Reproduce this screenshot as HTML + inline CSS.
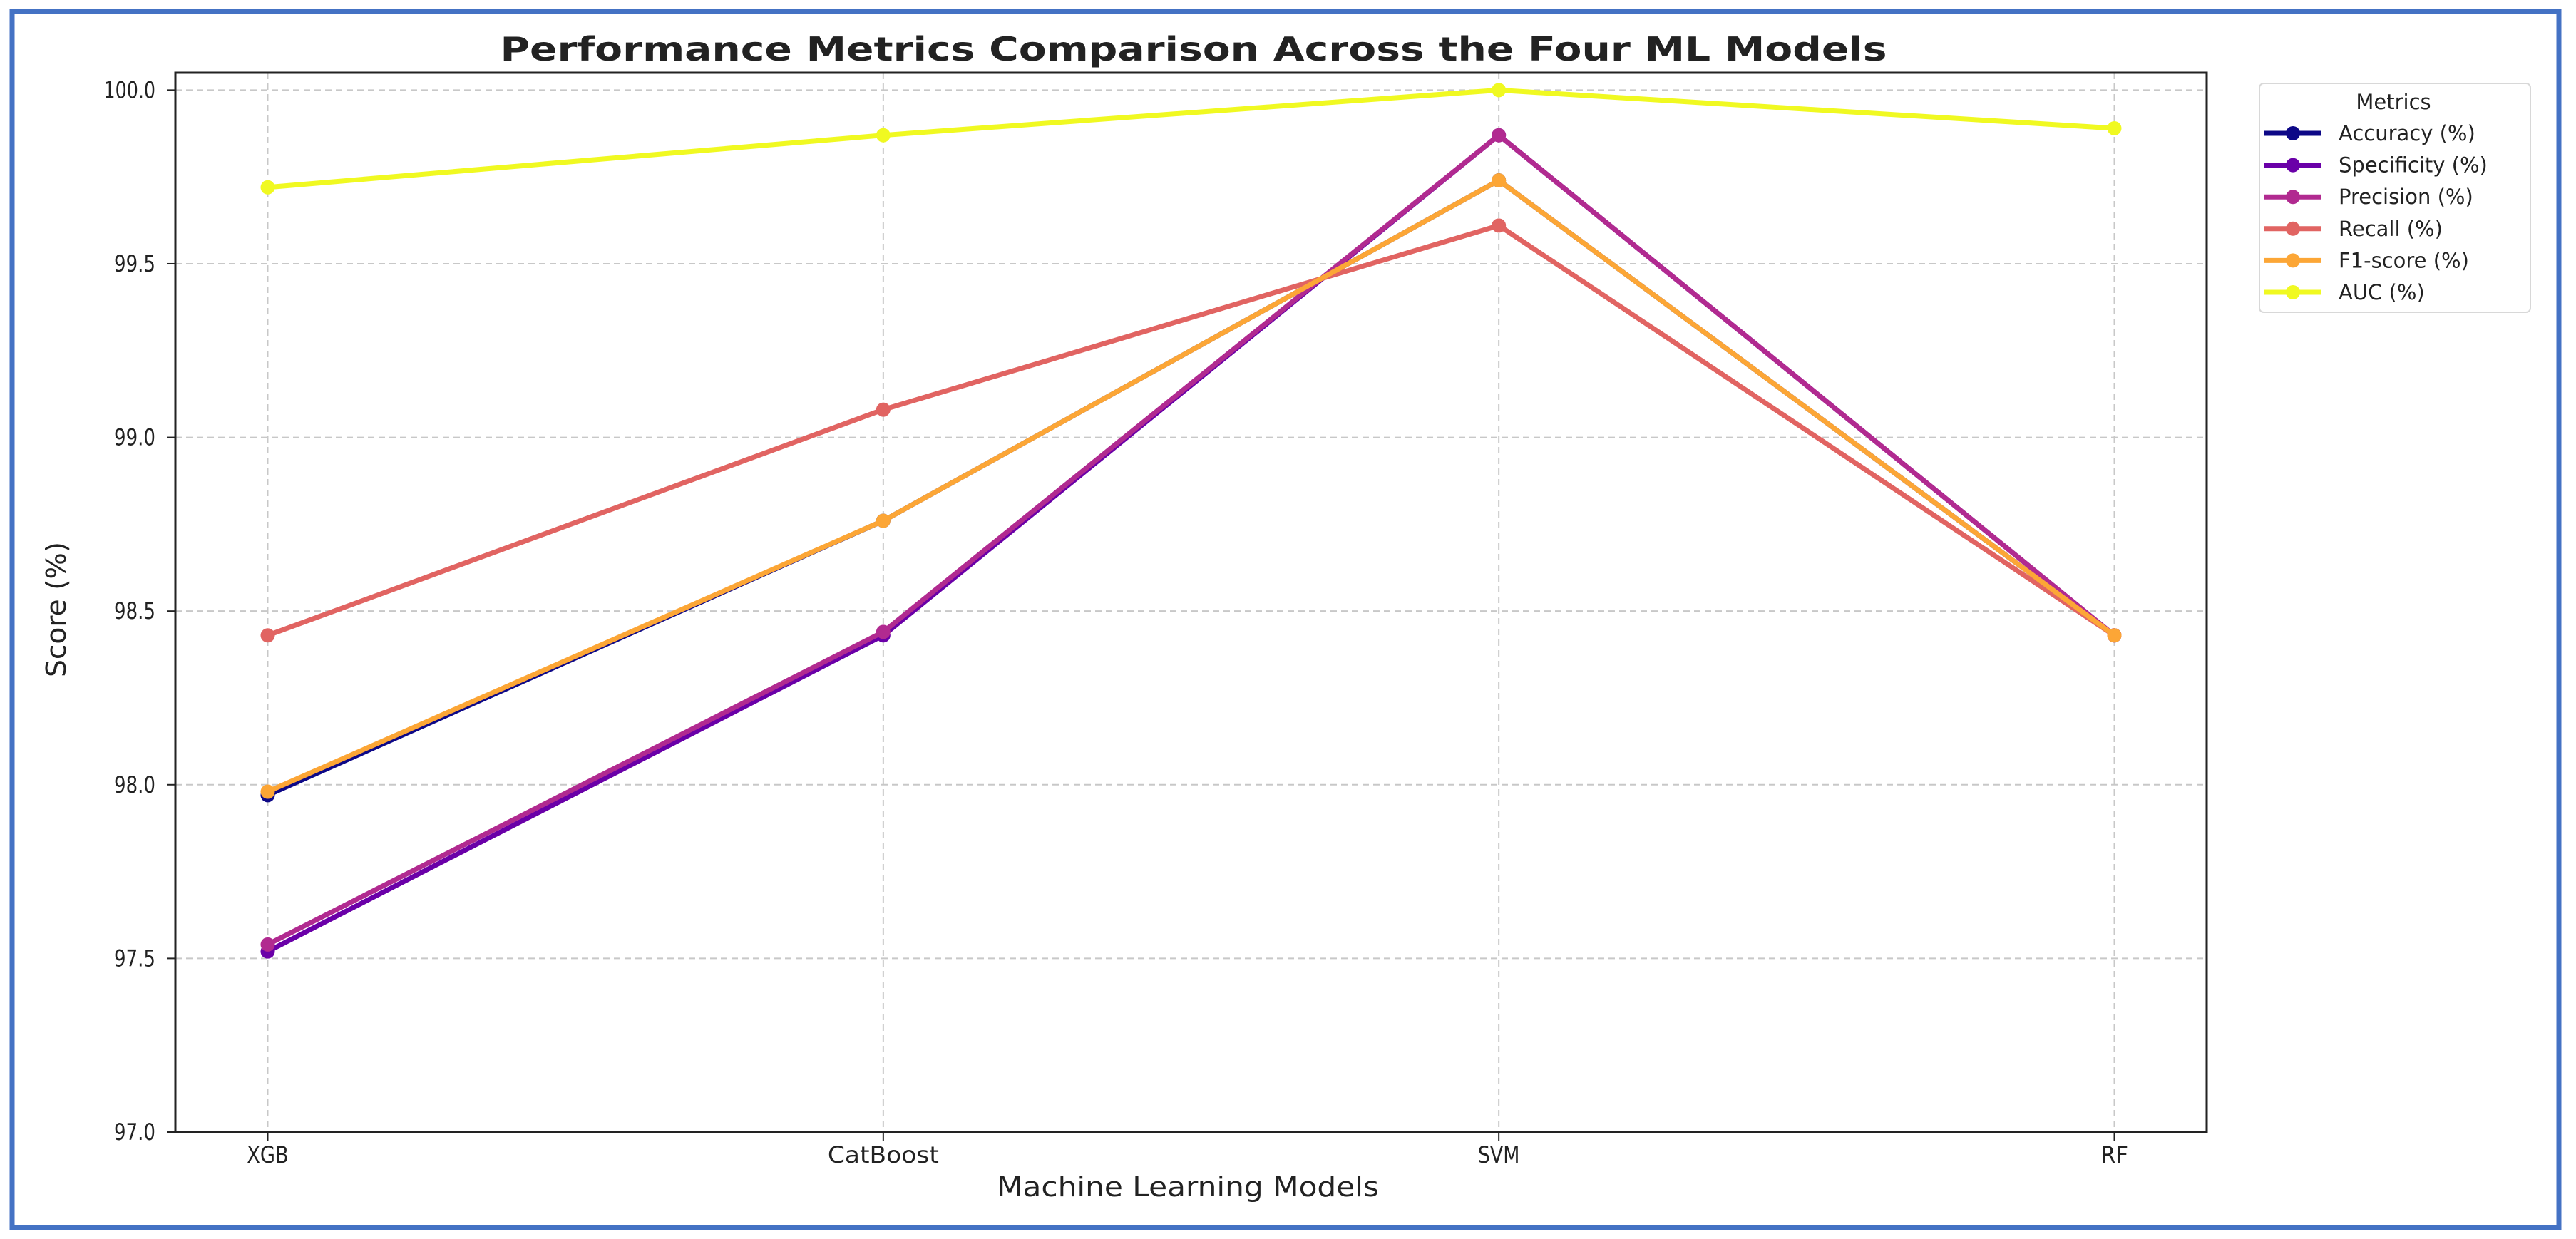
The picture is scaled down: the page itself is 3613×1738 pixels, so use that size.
<!DOCTYPE html>
<html><head><meta charset="utf-8"><style>
html,body{margin:0;padding:0;background:#fff;}
svg{display:block;}
text{font-family:"DejaVu Sans","Liberation Sans",sans-serif;fill:#222;}
</style></head><body>
<svg id="chart" width="3613" height="1738" viewBox="0 0 3613 1738" xmlns="http://www.w3.org/2000/svg">
<rect x="17" y="16" width="3572" height="1706" fill="#fff" stroke="#4472c4" stroke-width="7"/>
<text x="1674" y="85" text-anchor="middle" font-size="46" font-weight="bold" fill="#111" textLength="1945" lengthAdjust="spacingAndGlyphs">Performance Metrics Comparison Across the Four ML Models</text>
<g id="grid"></g>
<g id="axes"></g>
<g id="series"></g>
<text x="1666" y="1678" text-anchor="middle" font-size="38" textLength="536" lengthAdjust="spacingAndGlyphs">Machine Learning Models</text>
<text transform="translate(92,855) rotate(-90)" text-anchor="middle" font-size="38" textLength="190" lengthAdjust="spacingAndGlyphs">Score (%)</text>
<g id="legend"></g>
</svg>
<script>
const categories = ["XGB", "CatBoost", "SVM", "RF"];
const seriesNames = ["Accuracy (%)", "Specificity (%)", "Precision (%)", "Recall (%)", "F1-score (%)", "AUC (%)"];
const accuracy = [97.97, 98.76, 99.74, 98.43];
const specificity = [97.52, 98.43, 99.87, 98.43];
const precision = [97.54, 98.44, 99.87, 98.43];
const recall = [98.43, 99.08, 99.61, 98.43];
const f1score = [97.98, 98.76, 99.74, 98.43];
const auc = [99.72, 99.87, 100.0, 99.89];
const yTicks = [97.0, 97.5, 98.0, 98.5, 99.0, 99.5, 100.0];
const yTickLabels = ["97.0", "97.5", "98.0", "98.5", "99.0", "99.5", "100.0"];

const NS = "http://www.w3.org/2000/svg";
const colors = ["#0d0887", "#6a00a8", "#b12a90", "#e16462", "#fca636", "#f0f921"];
const allSeries = [accuracy, specificity, precision, recall, f1score, auc];
const L = 246, R = 3095, T = 102, B = 1588;
const yMin = 97.0, yMax = 100.05, xMin = -0.15, xMax = 3.15;
function xScale(i){ return L + (i - xMin) / (xMax - xMin) * (R - L); }
function yScale(v){ return B - (v - yMin) / (yMax - yMin) * (B - T); }
function mk(tag, attrs, parent){ const e = document.createElementNS(NS, tag); for (const k in attrs) e.setAttribute(k, attrs[k]); parent.appendChild(e); return e; }

const grid = document.getElementById("grid");
const axes = document.getElementById("axes");
yTicks.forEach((v, i) => {
  const y = yScale(v);
  const g = mk("line", {x1: L, x2: R, y1: y, y2: y, stroke: "#c8c8c8", "stroke-width": 2, "stroke-dasharray": "9,6"}, grid);
  
  
  const t = mk("line", {x1: L - 12, x2: L, y1: y, y2: y, stroke: "#222", "stroke-width": 2}, axes);
  
  
  const lbl = mk("text", {x: 218, y: y + 11, "text-anchor": "end", "font-size": 32, textLength: yTickLabels[i].length * 14.5, lengthAdjust: "spacingAndGlyphs"}, axes);
  lbl.textContent = yTickLabels[i];
  
  
});
categories.forEach((c, i) => {
  const x = xScale(i);
  const g = mk("line", {x1: x, x2: x, y1: T, y2: B, stroke: "#c8c8c8", "stroke-width": 2, "stroke-dasharray": "9,6"}, grid);
  
  
  const t = mk("line", {x1: x, x2: x, y1: B, y2: B + 12, stroke: "#222", "stroke-width": 2}, axes);
  
  
  const lbl = mk("text", {x: x, y: 1631, "text-anchor": "middle", "font-size": 32, textLength: c.length * 19.5, lengthAdjust: "spacingAndGlyphs"}, axes);
  lbl.textContent = c;
  
  
});
const frame = mk("rect", {x: L, y: T, width: R - L, height: B - T, fill: "none", stroke: "#222", "stroke-width": 3}, axes);



const sg = document.getElementById("series");
allSeries.forEach((vals, s) => {
  const pts = vals.map((v, i) => xScale(i) + "," + yScale(v)).join(" ");
  const pl = mk("polyline", {points: pts, fill: "none", stroke: colors[s], "stroke-width": 7, "stroke-linejoin": "round"}, sg);
  
  
  vals.forEach((v, i) => {
    const c = mk("circle", {cx: xScale(i), cy: yScale(v), r: 10, fill: colors[s]}, sg);
    
    
  });
});

const lg = document.getElementById("legend");
const box = mk("rect", {x: 3169, y: 117, width: 380, height: 321, rx: 6, fill: "#fff", stroke: "#d8d8d8", "stroke-width": 2}, lg);


const lt = mk("text", {x: 3357, y: 153, "text-anchor": "middle", "font-size": 29}, lg);
lt.textContent = "Metrics";


seriesNames.forEach((n, s) => {
  const y = 187 + s * 44.6;
  const ln = mk("line", {x1: 3176, x2: 3255, y1: y, y2: y, stroke: colors[s], "stroke-width": 7}, lg);
  
  
  const c = mk("circle", {cx: 3216, cy: y, r: 10, fill: colors[s]}, lg);
  
  
  const t = mk("text", {x: 3280, y: y + 10, "font-size": 29}, lg);
  t.textContent = n;
  
  
});
</script>
</body></html>
